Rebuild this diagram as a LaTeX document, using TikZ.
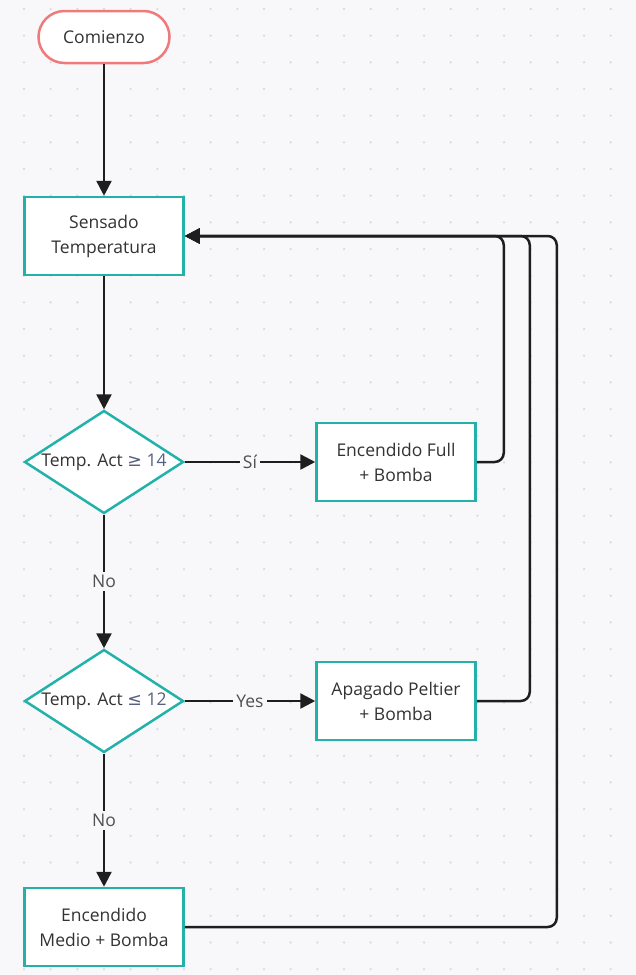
\documentclass[tikz,border=0pt]{standalone}
\usepackage{fontspec}
\setmainfont{Open Sans}
\newfontfamily\symfnt{DejaVu Sans}
\usetikzlibrary{arrows.meta,shapes.geometric}
\definecolor{bgc}{HTML}{F8F8FB}
\definecolor{dotc}{HTML}{DADAE0}
\definecolor{tealc}{HTML}{22B2AA}
\definecolor{salmonc}{HTML}{F07A7A}
\definecolor{txtc}{HTML}{333333}
\definecolor{lblc}{HTML}{505050}
\definecolor{symc}{HTML}{566080}
\definecolor{lnc}{HTML}{1E1E1E}
\begin{document}
\begin{tikzpicture}[x=1pt,y=-1pt,
  base/.style={font=\fontsize{17.5}{25}\selectfont, text=txtc, align=center},
  procbox/.style={base, draw=tealc, line width=2.5pt, fill=white, minimum width=159pt, minimum height=78pt, inner sep=0pt},
  startbox/.style={base, draw=salmonc, line width=2.5pt, fill=white, minimum width=131pt, minimum height=52pt, rounded corners=26pt, inner sep=0pt},
  decbox/.style={diamond, draw=tealc, line width=2.5pt, fill=white, minimum width=159pt, minimum height=103pt, inner sep=0pt},
  txtnode/.style={base},
  conn/.style={draw=lnc, line width=2.5pt, -{Triangle[length=15pt,width=15pt]}},
  retconn/.style={conn, rounded corners=9pt},
  lab/.style={font=\fontsize{17.5}{25}\selectfont, text=lblc, fill=bgc, inner sep=3pt}
]
\useasboundingbox (0,0) rectangle (636,975);
\fill[bgc] (0,0) rectangle (636,975);
\foreach \i in {0,...,23}{
  \foreach \j in {0,...,36}{
    \fill[dotc] ({24+26.67*\i},{9+26.67*\j}) circle (1.3);
  }
}
% nodes
\node[startbox] (start) at (104,37) {Comienzo};
\node[procbox] (sens) at (104,236) {Sensado\\Temperatura};
\node[decbox] (d1) at (104,462) {};
\node[txtnode] (d1t) at (104,462) {Temp. Act {\color{symc}{\symfnt ≥} 14}};
\node[procbox] (full) at (396,462) {Encendido Full\\+ Bomba};
\node[decbox] (d2) at (104,701) {};
\node[txtnode] (d2t) at (104,701) {Temp. Act {\color{symc}{\symfnt ≤} 12}};
\node[procbox] (apag) at (396,701) {Apagado Peltier\\+ Bomba};
\node[procbox] (medio) at (104,927) {Encendido\\Medio + Bomba};
% connectors
\draw[conn] (start) -- (sens);
\draw[conn] (sens) -- (d1);
\draw[conn] (d1.east) -- node[lab]{Sí} (full.west);
\draw[conn] (d1.south) -- node[lab]{No} (d2.north);
\draw[conn] (d2.east) -- node[lab]{Yes} (apag.west);
\draw[conn] (d2.south) -- node[lab]{No} (medio.north);
\draw[retconn] (full.east) -- ++(27,0) |- (sens.east);
\draw[retconn] (apag.east) -- ++(53,0) |- (sens.east);
\draw[retconn] (medio.east) -- ++(372,0) |- (sens.east);
\end{tikzpicture}
\end{document}
